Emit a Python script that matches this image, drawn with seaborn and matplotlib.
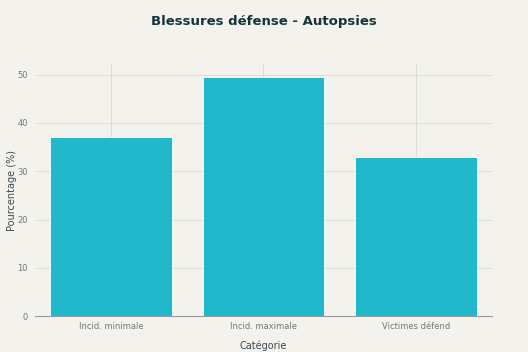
import matplotlib
matplotlib.use("Agg")
import matplotlib.pyplot as plt
import seaborn as sns
import pandas as pd

categories = ["Incid. minimale", "Incid. maximale", "Victimes défend"]
values = [37.1, 49.6, 33.0]

bg = "#F3F2EC"
bar_color = "#21B8CC"

sns.set_theme(style="whitegrid")
plt.rcParams["font.family"] = ["DejaVu Sans"]

df = pd.DataFrame({"Catégorie": categories, "Pourcentage": values})

fig = plt.figure(figsize=(5.28, 3.52), dpi=100, facecolor=bg)
ax = fig.add_axes([0.066, 0.102, 0.866, 0.716])
ax.set_facecolor(bg)

sns.barplot(data=df, x="Catégorie", y="Pourcentage", color=bar_color,
            width=0.8, saturation=1, edgecolor="white", linewidth=0.6, ax=ax, zorder=3)

ax.set_ylim(0, 52.2)
ax.set_xlim(-0.5, 2.5)
ax.set_yticks([0, 10, 20, 30, 40, 50])
ax.grid(True, color="#DDDDD8", linewidth=0.7, zorder=0)
ax.set_axisbelow(True)
for s in ["top", "right", "left"]:
    ax.spines[s].set_visible(False)
ax.spines["bottom"].set_color("#999999")
ax.spines["bottom"].set_linewidth(0.8)
ax.tick_params(axis="x", length=0, labelsize=6, labelcolor="#777777", pad=4)
ax.tick_params(axis="y", length=0, labelsize=6, labelcolor="#777777", pad=5)

ax.set_xlabel("Catégorie", fontsize=7, color="#3A4A55")
ax.xaxis.set_label_coords(0.5, -0.095)
ax.set_ylabel("Pourcentage (%)", fontsize=7, color="#3A4A55")
ax.yaxis.set_label_coords(-0.038, 0.5)
fig.suptitle("Blessures défense - Autopsies", x=0.5, y=0.957, fontsize=9.5,
             color="#13343B", fontweight="bold")

fig.savefig("out.png", dpi=100, facecolor=bg)
